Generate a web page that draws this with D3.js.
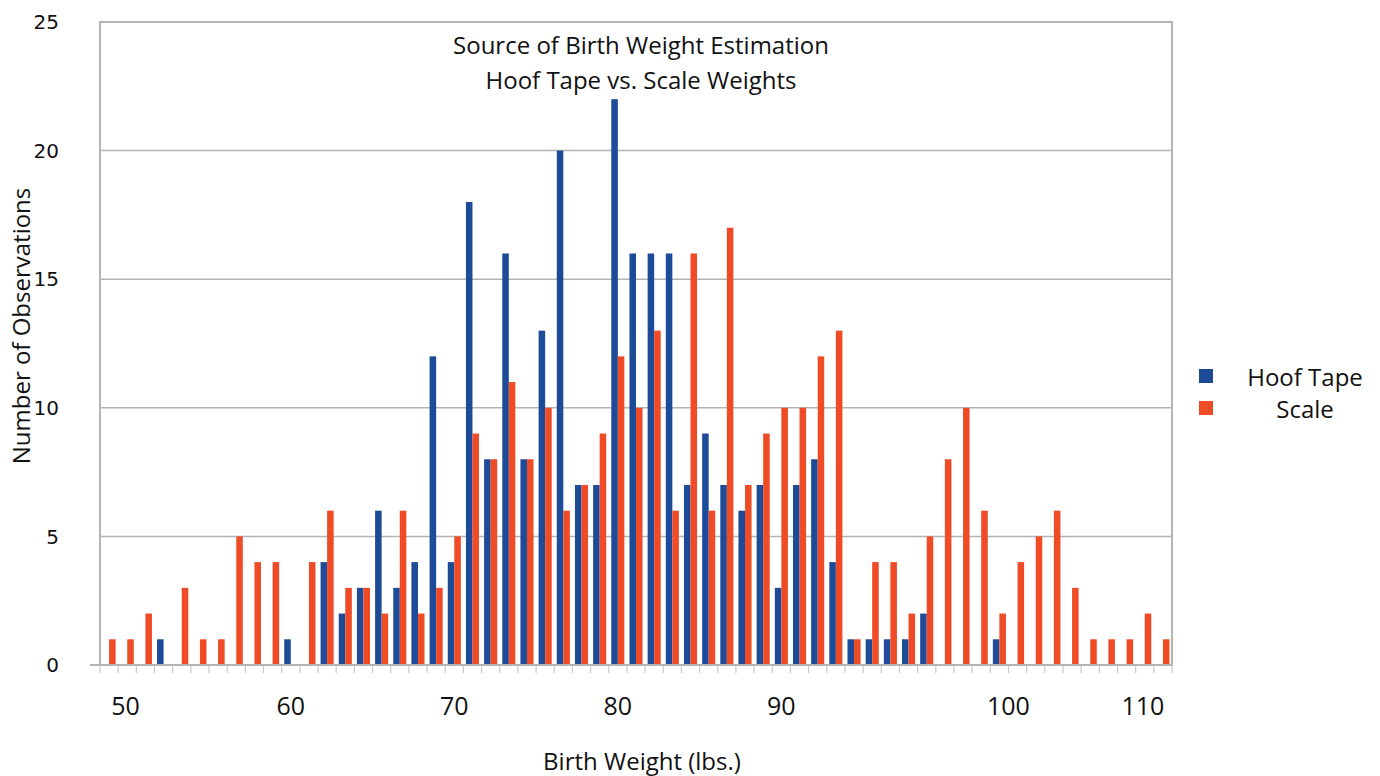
<!DOCTYPE html>
<html lang="en">
  <head>
    <meta charset="utf-8">
    <title>Birth Weight Estimation</title>
    <style>
      body { margin: 0; background: #fff; }
      .grid line { stroke: #b4b4b4; stroke-width: 1.5px; }
      .frame { fill: none; stroke: #b4b4b4; stroke-width: 2px; }
      .ytick text { font: 20px "DejaVu Sans", sans-serif; fill: #111; }
      .xlab { font: 25px "Open Sans", sans-serif; fill: #111; }
      .title { font: 24px "Open Sans", sans-serif; fill: #111; }
      .axis-title { font: 24px "Open Sans", sans-serif; fill: #111; }
      .legend text { font: 24px "Open Sans", sans-serif; fill: #111; }
    </style>
  </head>
  <body>
    <svg id="chart"></svg>

    <script src="https://cdn.jsdelivr.net/npm/d3@7"></script>
    <script>

      // one bin per bar pair, left to right
      var hoofTape = [0,0,0,1,0,0,0,0,0,0,1,0,4,2,3,6,3,4,12,4,18,8,16,8,13,20,7,7,22,16,
                      16,16,7,9,7,6,7,3,7,8,4,1,1,1,1,2,0,0,0,1,0,0,0,0,0,0,0,0,0];
      var scale    = [1,1,2,0,3,1,1,5,4,4,0,4,6,3,3,2,6,2,3,5,9,8,11,8,10,6,7,9,12,10,
                      13,6,16,6,17,7,9,10,10,12,13,1,4,4,2,5,8,10,6,2,4,5,6,3,1,1,1,2,1];

      var seriesNames = ["Hoof Tape", "Scale"];
      var colors = ["#1d4b98", "#ee4b26"];

      // x labels sit at these bin positions
      var xTickLabels = ["50", "60", "70", "80", "90", "100", "110"];
      var xTickBins = [1.4, 10.5, 19.5, 28.5, 37.5, 50, 57.4];
      var yTicks = [0, 5, 10, 15, 20, 25];

      var W = 1380, H = 776;
      var margin = {top: 22, right: 208, bottom: 111, left: 100},
          width = W - margin.left - margin.right,
          height = H - margin.top - margin.bottom;

      var svg = d3.select("#chart")
          .attr("width", W)
          .attr("height", H);

      var g = svg.append("g")
          .attr("transform", "translate(" + margin.left + "," + margin.top + ")");

      var bins = d3.range(hoofTape.length);

      var x0 = d3.scaleBand()
          .domain(bins)
          .range([0, width])
          .paddingInner(0.28)
          .paddingOuter(0.14);

      var x1 = d3.scaleBand()
          .domain([0, 1])
          .range([0, x0.bandwidth()]);

      var xPos = d3.scaleLinear()
          .domain([0, bins.length])
          .range([0, width]);

      var y = d3.scaleLinear()
          .domain([0, 25])
          .range([height, 0]);

      // gridlines
      g.append("g").attr("class", "grid")
        .selectAll("line")
        .data(yTicks.filter(function(d) { return d > 0 && d < 25; }))
        .enter().append("line")
          .attr("x1", 0).attr("x2", width)
          .attr("y1", function(d) { return y(d); })
          .attr("y2", function(d) { return y(d); });

      // small ticks under the baseline, one per bin edge
      g.append("g")
        .selectAll("line")
        .data(d3.range(bins.length + 1))
        .enter().append("line")
          .attr("x1", function(d) { return xPos(d); })
          .attr("x2", function(d) { return xPos(d); })
          .attr("y1", height)
          .attr("y2", height + 8)
          .attr("stroke", "#c8c8c8")
          .attr("stroke-width", 1.2);

      // bars
      var rows = bins.map(function(i) {
        return [{s: 0, v: hoofTape[i]}, {s: 1, v: scale[i]}];
      });

      var groups = g.append("g")
        .selectAll("g")
        .data(rows)
        .enter().append("g")
          .attr("transform", function(d, i) { return "translate(" + x0(i) + ",0)"; });

      groups.selectAll("rect")
        .data(function(d) { return d.filter(function(e) { return e.v > 0; }); })
        .enter().append("rect")
          .attr("x", function(d) { return x1(d.s); })
          .attr("y", function(d) { return y(d.v); })
          .attr("width", x1.bandwidth())
          .attr("height", function(d) { return height - y(d.v); })
          .attr("fill", function(d) { return colors[d.s]; });

      // plot frame: left, top, right and baseline
      g.append("path")
          .attr("class", "frame")
          .attr("d", "M0," + height + "V0H" + width + "V" + height + "H-10");

      // y tick labels
      g.append("g").attr("class", "ytick")
        .selectAll("text")
        .data(yTicks)
        .enter().append("text")
          .attr("x", -41)
          .attr("y", function(d) { return y(d); })
          .attr("dy", "0.36em")
          .attr("text-anchor", "end")
          .text(function(d) { return d; });

      // x tick labels
      g.append("g")
        .selectAll("text")
        .data(xTickLabels)
        .enter().append("text")
          .attr("class", "xlab")
          .attr("x", function(d, i) { return xPos(xTickBins[i]); })
          .attr("y", height + 50)
          .attr("text-anchor", "middle")
          .text(function(d) { return d; });

      // titles
      var title = g.append("text")
          .attr("class", "title")
          .attr("text-anchor", "middle")
          .attr("x", 541)
          .attr("y", 32);
      title.append("tspan").attr("x", 541).text("Source of Birth Weight Estimation");
      title.append("tspan").attr("x", 541).attr("dy", 35).text("Hoof Tape vs. Scale Weights");

      svg.append("text")
          .attr("class", "axis-title")
          .attr("text-anchor", "middle")
          .attr("x", 642)
          .attr("y", 770)
          .text("Birth Weight (lbs.)");

      svg.append("text")
          .attr("class", "axis-title")
          .attr("text-anchor", "middle")
          .attr("transform", "translate(30,326) rotate(-90)")
          .text("Number of Observations");

      // legend
      var legend = svg.append("g").attr("class", "legend");
      var items = legend.selectAll("g")
        .data(seriesNames)
        .enter().append("g")
          .attr("transform", function(d, i) { return "translate(1199," + (369 + i * 32) + ")"; });
      items.append("rect")
          .attr("width", 14).attr("height", 14)
          .attr("fill", function(d, i) { return colors[i]; });
      items.append("text")
          .attr("x", 106)
          .attr("y", 8)
          .attr("dy", "0.36em")
          .attr("text-anchor", "middle")
          .text(function(d) { return d; });

    </script>
  </body>
</html>
